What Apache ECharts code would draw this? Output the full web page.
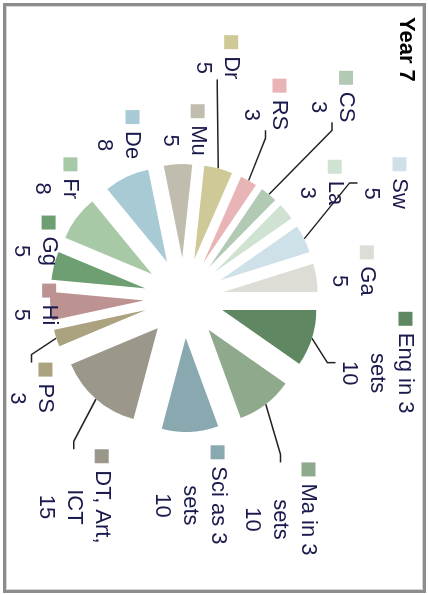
<!DOCTYPE html>
<html>
<head>
<meta charset="utf-8">
<title>Year 7</title>
<script src="https://cdn.jsdelivr.net/npm/echarts@6/dist/echarts.min.js"></script>
<style>
    html, body { margin: 0; padding: 0; background: #fff; }
    /* gray frame round the picture */
    #frame {
        position: absolute; left: 3px; top: 3px; width: 423px; height: 590px;
        box-sizing: border-box; border: 3px solid #8c8c8c;
        box-shadow: inset 0 0 0 1px #d6d6d6;
    }
    /* the chart is drawn lying on its side, turned a quarter clockwise */
    #chart {
        position: absolute; left: 428px; top: 0; width: 595px; height: 428px;
        transform-origin: 0 0; transform: rotate(90deg);
    }
</style>
</head>
<body>
<div id="frame"></div>
<div id="chart"></div>
<script>
// lessons per subject, Year 7
const subjects = ['Eng in 3 sets', 'Ma in 3 sets', 'Sci as 3 sets', 'DT, Art, ICT', 'PS', 'Hi', 'Gg', 'Fr',
    'De', 'Mu', 'Dr', 'RS', 'CS', 'La', 'Sw', 'Ga']
const lessons = [10, 10, 10, 15, 3, 5, 5, 8, 8, 5, 5, 3, 3, 3, 5, 5]
const colors = ['#5e8762', '#8fa98d', '#8aa8b0', '#9b988b', '#aba27f', '#bd9293', '#6e9f72', '#a8c9a5',
    '#a7cad4', '#c1bdae', '#cfc897', '#e9b4b6', '#b2c9b4', '#d0e2d1', '#cfe1e8', '#dddcd5']

// label placement: distance from the pie centre and turn away from the slice middle (degrees)
const labelDist = [204, 232, 197, 227, 177, 149, 160, 175, 176, 168, 243, 210, 250, 179, 232, 171]
const labelTurn = [1, 13, 1, -12, -13, 1, 7, 6.5, 3.5, 2.5, -7, -6, -3, 0, -3.5, -0.5]
// which labels get a leader line
const leader = [true, true, false, true, true, false, false, false, false, false, true, true, true, false, true, false]

const centre = [298, 244]
const textColor = '#1a1a4d'
const font = 'Liberation Sans, Arial, sans-serif'

let total = lessons.reduce((a, b) => a + b, 0)

// middle of slice i, degrees clockwise from 12 o'clock
function midAngle(i) {
    let before = 0
    for (let k = 0; k < i; k++) before += lessons[k]
    return (before + lessons[i] / 2) / total * 360
}

// break long names into lines of at most 8 characters
function wrap(name) {
    let lines = []
    let cur = ''
    name.split(' ').forEach(w => {
        if (cur && (cur + ' ' + w).length > 8) {
            lines.push(cur)
            cur = w
        } else {
            cur = cur ? cur + ' ' + w : w
        }
    })
    lines.push(cur)
    return lines
}

let rich = {
    g: { width: 7, lineHeight: 28 },
    p: { width: 21, lineHeight: 28 },
    n: { fontSize: 22, lineHeight: 28, color: textColor, fontFamily: font, align: 'center' }
}
colors.forEach((c, i) => {
    rich['sq' + i] = { width: 14, height: 14, backgroundColor: c, lineHeight: 28 }
})

let myChart = echarts.init(document.getElementById('chart'))

myChart.setOption({
    animation: false,
    title: {
        text: 'Year 7',
        left: 12,
        top: 6,
        textStyle: { fontSize: 22, fontWeight: 'bold', color: '#000', fontFamily: font }
    },
    series: [
        {
            // the exploded slices
            type: 'pie',
            center: centre,
            radius: 94,
            selectedMode: 'multiple',
            selectedOffset: 40,
            label: { show: false },
            labelLine: { show: false },
            itemStyle: { borderWidth: 0 },
            select: { itemStyle: { borderWidth: 0 } },
            emphasis: { disabled: true },
            data: subjects.map((name, i) => ({
                name: name,
                value: lessons[i],
                selected: true,
                itemStyle: { color: colors[i] }
            }))
        },
        {
            // same pie, invisible, carrying the labels and leaders
            type: 'pie',
            center: centre,
            radius: 134,
            silent: true,
            avoidLabelOverlap: false,
            itemStyle: { color: 'rgba(0,0,0,0)', borderWidth: 0 },
            label: {
                show: true,
                position: 'outside',
                color: textColor,
                fontSize: 22,
                lineHeight: 28,
                fontFamily: font,
                formatter: function (p) {
                    let lines = wrap(p.name)
                    let s = '{sq' + p.dataIndex + '|}{g|}{n|' + lines[0] + '}'
                    for (let k = 1; k < lines.length; k++) {
                        s += '\n{p|}{n|' + lines[k] + '}'
                    }
                    return s + '\n{p|}{n|' + p.value + '}'
                },
                rich: rich
            },
            labelLine: {
                show: true,
                length: 10,
                length2: 8,
                lineStyle: { color: '#222', width: 1.5 }
            },
            labelLayout: function (params) {
                let i = params.dataIndex
                let a = (midAngle(i) + labelTurn[i]) * Math.PI / 180
                return {
                    x: centre[0] + labelDist[i] * Math.sin(a),
                    y: centre[1] - labelDist[i] * Math.cos(a),
                    align: 'center',
                    verticalAlign: 'middle'
                }
            },
            data: subjects.map((name, i) => ({
                name: name,
                value: lessons[i],
                labelLine: { show: leader[i] }
            }))
        }
    ]
})
</script>
</body>
</html>
